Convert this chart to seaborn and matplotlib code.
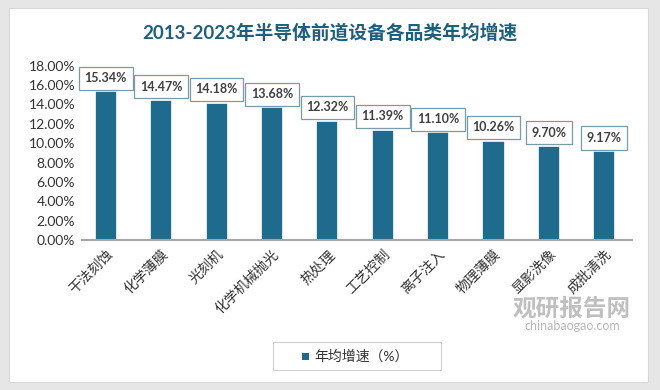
import pandas as pd
import seaborn as sns
import matplotlib.pyplot as plt
from matplotlib.patches import Rectangle

# --- Dados ---
categorias = ["干法刻蚀", "化学薄膜", "光刻机", "化学机械抛光", "热处理",
              "工艺控制", "离子注入", "物理薄膜", "显影洗像", "成批清洗"]
valores = [15.34, 14.47, 14.18, 13.68, 12.32, 11.39, 11.10, 10.26, 9.70, 9.17]
y_ticks = [0, 2, 4, 6, 8, 10, 12, 14, 16, 18]
titulo = "2013-2023年半导体前道设备各品类年均增速"
legenda = "年均增速（%）"

cor_barra = "#1f6b8e"

sns.set_theme(style="white")
plt.rcParams['font.family'] = ['Lato', 'Noto Sans CJK SC', 'DejaVu Sans']
plt.rcParams['hatch.linewidth'] = 0.7
plt.rcParams['hatch.color'] = '#d2d2d2'

df = pd.DataFrame({"categoria": categorias, "valor": valores})

fig = plt.figure(figsize=(6.6, 3.9), dpi=100)
fig.patch.set_facecolor("#e6e6e6")
fig.patches.append(Rectangle((9 / 660, 1 - 382 / 390), 639 / 660, 374 / 390,
                             transform=fig.transFigure, facecolor="white",
                             edgecolor="#d8d8d8", linewidth=0.8, zorder=-10))

ax = fig.add_axes([82 / 660, 1 - 240 / 390, 550 / 660, 185 / 390])
ax.set_facecolor("none")
ax.add_patch(Rectangle((0, 0), 1, 1, transform=ax.transAxes, facecolor="white",
                       edgecolor="none", hatch="//////", zorder=0))

sns.barplot(data=df, x="categoria", y="valor", color=cor_barra, width=0.4,
            edgecolor="white", linewidth=1.2, saturation=1, ax=ax, zorder=2)

for i, v in enumerate(valores):
    ax.text(i, v + 0.75, f"{v:.2f}%", ha="center", va="bottom", fontsize=9,
            fontweight="bold", color="#404040", zorder=4,
            bbox=dict(boxstyle="square,pad=0.45", fc="white", ec="#7b9aa8", lw=0.9))

ax.set_xlim(-0.43, 9.5)
ax.set_ylim(0, 19.1)
ax.set_yticks(y_ticks)
ax.set_yticklabels([f"{t:.2f}%" for t in y_ticks], fontsize=10, color="#333333")
ax.set_xticks(range(len(categorias)))
ax.set_xticklabels(categorias, rotation=45, ha="right", rotation_mode="anchor",
                   fontsize=10, color="#333333")
ax.tick_params(axis="both", length=0, pad=5)
ax.set_xlabel("")
ax.set_ylabel("")
for s in ["top", "right", "left"]:
    ax.spines[s].set_visible(False)
ax.spines["bottom"].set_color("#a6a6a6")
ax.spines["bottom"].set_linewidth(1.5)

fig.text(0.5, 1 - 32 / 390, titulo, ha="center", va="center", fontsize=13.5,
         fontweight="bold", color="#1d5f7e")

# marca d'água
fig.text(572 / 660, 1 - 308 / 390, "观研报告网", ha="center", va="center",
         fontsize=17, fontweight="bold", color="#b0b0b0", alpha=0.8, zorder=5)
fig.text(572 / 660, 1 - 326 / 390, "chinabaogao.com", ha="center", va="center",
         fontsize=9, color="#b0b0b0", alpha=0.9, zorder=5)

# legenda
fig.patches.append(Rectangle((273 / 660, 1 - 370 / 390), 168 / 660, 28 / 390,
                             transform=fig.transFigure, facecolor="white",
                             edgecolor="#d0d0d0", linewidth=0.8, zorder=3))
fig.patches.append(Rectangle((302 / 660, 1 - 360 / 390), 7 / 660, 7 / 390,
                             transform=fig.transFigure, facecolor=cor_barra,
                             edgecolor="none", zorder=4))
fig.text(314 / 660, 1 - 356 / 390, legenda, ha="left", va="center", fontsize=10,
         color="#333333", zorder=4)

fig.savefig("out.png", dpi=100)
